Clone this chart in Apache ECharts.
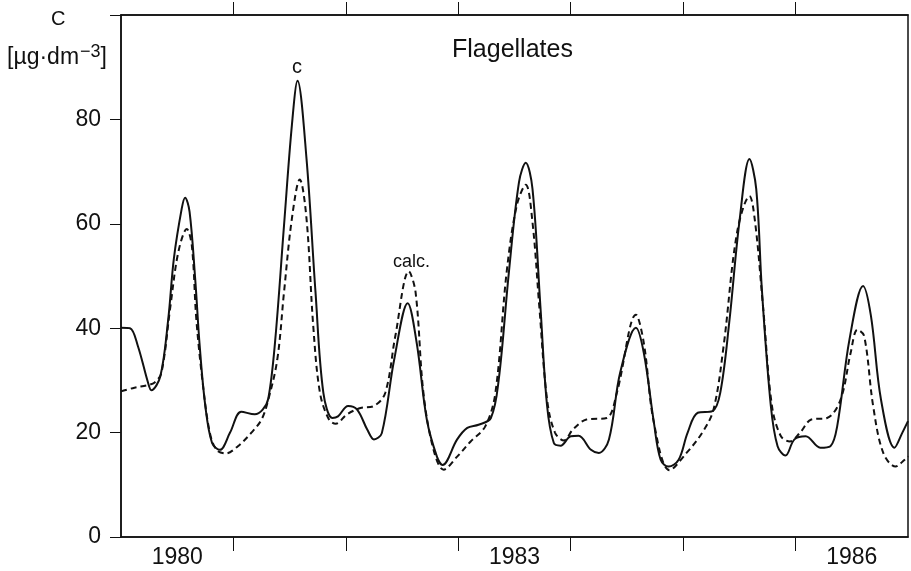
<!DOCTYPE html>
<html>
<head>
<meta charset="utf-8">
<script src="https://cdn.jsdelivr.net/npm/echarts@6/dist/echarts.min.js"></script>
<style>
  html, body { margin: 0; padding: 0; background: #fff; }
  #chart { width: 911px; height: 571px; }
</style>
</head>
<body>
<div id="chart"></div>
<script>
// observed C (solid) - decimal years / µg·dm-3
var obsT = [1980.00, 1980.08, 1980.15, 1980.24, 1980.27, 1980.35, 1980.42, 1980.47, 1980.54, 1980.57,
            1980.61, 1980.66, 1980.70, 1980.75, 1980.81, 1980.88, 1980.97, 1981.07, 1981.19, 1981.26,
            1981.31, 1981.37, 1981.45, 1981.52, 1981.57, 1981.65, 1981.73, 1981.80, 1981.88, 1981.93,
            1982.02, 1982.10, 1982.19, 1982.25, 1982.32, 1982.43, 1982.55, 1982.63, 1982.72, 1982.81,
            1982.86, 1982.99, 1983.08, 1983.18, 1983.29, 1983.36, 1983.45, 1983.54, 1983.60, 1983.66,
            1983.73, 1983.79, 1983.85, 1983.91, 1984.00, 1984.07, 1984.18, 1984.25, 1984.34, 1984.44,
            1984.58, 1984.65, 1984.74, 1984.80, 1984.87, 1984.96, 1985.04, 1985.13, 1985.26, 1985.33,
            1985.41, 1985.50, 1985.59, 1985.65, 1985.70, 1985.78, 1985.84, 1985.91, 1985.99, 1986.09,
            1986.22, 1986.31, 1986.37, 1986.48, 1986.60, 1986.67, 1986.76, 1986.88, 1986.95, 1987.00];
var obsC = [40.1, 40.0, 36.6, 29.6, 28.1, 30.8, 41.7, 53.3, 62.9, 65.0,
            62.3, 49.4, 36.6, 25.1, 18.0, 16.7, 20.0, 24.0, 23.5, 24.4,
            26.5, 37.3, 59.7, 78.9, 87.4, 72.5, 46.9, 27.6, 22.8, 23.1,
            25.1, 24.4, 20.6, 18.7, 19.9, 34.0, 44.8, 37.2, 22.5, 15.4,
            13.8, 18.7, 20.9, 21.5, 22.8, 30.2, 50.7, 68.0, 71.7, 66.7,
            44.3, 25.1, 18.0, 17.5, 19.3, 19.4, 16.7, 16.1, 18.7, 31.5,
            40.1, 35.3, 21.9, 14.8, 13.5, 14.8, 20.0, 23.8, 24.1, 27.6,
            41.1, 60.3, 72.4, 66.7, 47.5, 25.1, 17.4, 15.6, 18.7, 19.3,
            17.1, 17.4, 21.2, 37.9, 48.1, 42.4, 26.3, 17.1, 20.0, 22.2];

// calculated (dashed)
var calcT = [1980.00, 1980.12, 1980.24, 1980.30, 1980.36, 1980.44, 1980.51, 1980.585, 1980.63, 1980.67,
             1980.73, 1980.79, 1980.85, 1980.93, 1981.04, 1981.16, 1981.25, 1981.31, 1981.39, 1981.45,
             1981.52, 1981.59, 1981.65, 1981.71, 1981.77, 1981.85, 1981.91, 1982.01, 1982.13, 1982.25,
             1982.35, 1982.44, 1982.56, 1982.62, 1982.69, 1982.78, 1982.87, 1982.99, 1983.11, 1983.24,
             1983.33, 1983.43, 1983.52, 1983.60, 1983.66, 1983.72, 1983.79, 1983.86, 1983.94, 1984.02,
             1984.14, 1984.32, 1984.41, 1984.58, 1984.65, 1984.74, 1984.88, 1985.03, 1985.17, 1985.27,
             1985.36, 1985.48, 1985.59, 1985.64, 1985.71, 1985.79, 1985.87, 1985.95, 1986.04, 1986.14,
             1986.28, 1986.40, 1986.49, 1986.55, 1986.61, 1986.69, 1986.78, 1986.89, 1986.97, 1987.00];
var calcC = [27.9, 28.6, 29.1, 29.6, 31.5, 44.3, 54.6, 59.0, 55.8, 41.7,
             28.9, 20.0, 16.7, 16.0, 17.4, 20.0, 22.5, 26.3, 34.0, 46.9,
             61.0, 68.5, 61.0, 40.4, 27.6, 22.5, 21.7, 23.5, 24.7, 25.1,
             27.6, 38.5, 50.9, 46.9, 27.6, 16.7, 12.9, 15.4, 18.3, 21.2,
             27.6, 50.7, 63.5, 67.5, 60.3, 44.3, 26.3, 20.0, 18.5, 20.6,
             22.5, 22.8, 27.6, 42.6, 37.2, 21.9, 12.8, 16.1, 20.0, 24.4,
             36.6, 58.4, 65.3, 60.3, 44.3, 25.1, 19.3, 18.3, 20.0, 22.5,
             22.8, 26.3, 35.3, 39.7, 38.5, 25.1, 16.1, 13.5, 14.8, 15.4];

var yearTicks = [1981, 1982, 1983, 1984, 1985, 1986];
var yearLabels = [1980.5, 1983.5, 1986.5];

function pairs(t, v) {
    var out = [];
    for (var i = 0; i < t.length; i++) out.push([t[i], v[i]]);
    return out;
}

var font = 'Liberation Sans';
var ink = '#111';

var chart = echarts.init(document.getElementById('chart'));
chart.setOption({
    animation: false,
    backgroundColor: '#fff',
    grid: {
        left: 121, right: 3, top: 15, bottom: 34,
        show: true, borderColor: ink, borderWidth: 1.5
    },
    xAxis: [
        {
            type: 'value', min: 1980, max: 1987, position: 'bottom',
            axisLine: { show: true, lineStyle: { color: ink, width: 1.5 } },
            axisTick: { show: true, inside: false, length: 14, customValues: yearTicks, lineStyle: { color: ink, width: 1 } },
            axisLabel: {
                customValues: yearLabels, margin: 9,
                fontFamily: font, fontSize: 23, color: ink,
                formatter: function (v) { return String(Math.floor(v)); }
            },
            splitLine: { show: false }
        },
        {
            type: 'value', min: 1980, max: 1987, position: 'top',
            axisLine: { show: true, lineStyle: { color: ink, width: 1.5 } },
            axisTick: { show: true, inside: false, length: 13, customValues: yearTicks, lineStyle: { color: ink, width: 1 } },
            axisLabel: { show: false },
            splitLine: { show: false }
        }
    ],
    yAxis: {
        type: 'value', min: 0, max: 100, interval: 20,
        axisLine: { show: true, lineStyle: { color: ink, width: 1.5 } },
        axisTick: { show: true, inside: false, length: 11, lineStyle: { color: ink, width: 1 } },
        axisLabel: {
            margin: 20, fontFamily: font, fontSize: 23, color: ink,
            formatter: function (v) { return v === 100 ? '' : String(v); }
        },
        splitLine: { show: false }
    },
    series: [
        {
            name: 'c', type: 'line', xAxisIndex: 0,
            data: pairs(obsT, obsC),
            smooth: 0.35, showSymbol: false,
            lineStyle: { color: ink, width: 2 }
        },
        {
            name: 'calc.', type: 'line', xAxisIndex: 0,
            data: pairs(calcT, calcC),
            smooth: 0.35, showSymbol: false,
            lineStyle: { color: ink, width: 2, type: [6, 4] }
        }
    ],
    graphic: [
        { type: 'text', left: 452, top: 38, style: { text: 'Flagellates', fontFamily: font, fontSize: 25, fill: ink } },
        { type: 'text', left: 292, top: 57, style: { text: 'c', fontFamily: font, fontSize: 20, fill: ink } },
        { type: 'text', left: 393, top: 253, style: { text: 'calc.', fontFamily: font, fontSize: 18, fill: ink } },
        { type: 'text', left: 51, top: 9, style: { text: 'C', fontFamily: font, fontSize: 20, fill: ink } },
        {
            type: 'text', left: 7, top: 43,
            style: {
                text: '[µg·dm{sup|−3}]', fontFamily: font, fontSize: 23, fill: ink,
                rich: { sup: { fontFamily: font, fontSize: 18, verticalAlign: 'top', padding: [0, 0, 12, 1] } }
            }
        }
    ]
});
</script>
</body>
</html>
